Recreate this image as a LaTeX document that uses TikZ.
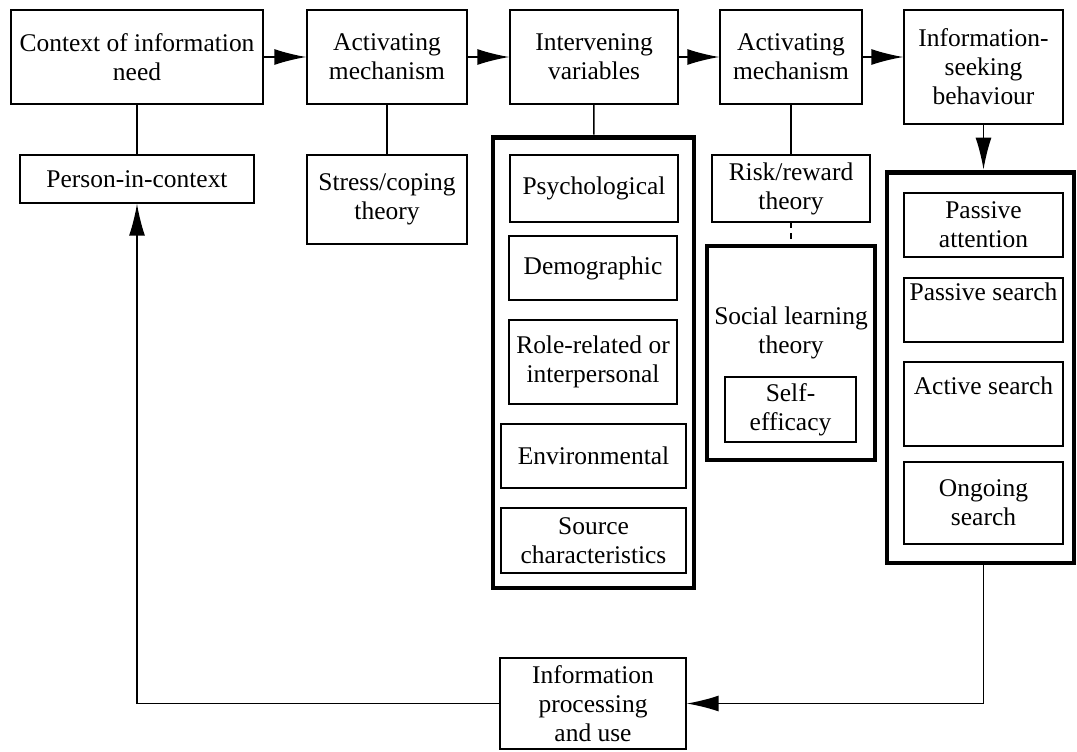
\documentclass[tikz,border=0pt]{standalone}
\usepackage{fontspec}
\setmainfont{Liberation Serif}
\usepackage{tikz}
\usetikzlibrary{positioning}
\usetikzlibrary{arrows.meta}

\begin{document}
\begin{tikzpicture}[x=0.02cm, y=-0.02cm,
  box/.style={draw, line width=0.8pt, align=center, inner sep=0pt,
    font=\fontsize{14.5}{16.5}\selectfont},
  words/.style={align=center, inner sep=0pt, font=\fontsize{14.5}{16.5}\selectfont},
  frame/.style={draw, line width=2.8pt, inner sep=0pt},
  link/.style={line width=0.8pt},
  flow/.style={line width=0.8pt, -{Latex[length=0.64cm, width=0.32cm]}}
  ]

\useasboundingbox (0,0) rectangle (1077,751);

% top row
{
\node[box, minimum width=5.04cm, minimum height=1.88cm] (context) at (137,57)
{Context of information\\need};
\node[box, minimum width=3.2cm, minimum height=1.88cm] (act1) at (387,57)
{Activating\\mechanism};
\node[box, minimum width=3.36cm, minimum height=1.88cm] (inter) at (594,57)
{Intervening\\variables};
\node[box, minimum width=2.84cm, minimum height=1.88cm] (act2) at (791,57)
{Activating\\mechanism};
\node[box, minimum width=3.18cm, minimum height=2.28cm] (seek) at (983.5,67)
{Information-\\seeking\\behaviour};
}

% theories
{
\node[box, minimum width=4.68cm, minimum height=0.96cm] (person) at (137,179)
{Person-in-context};
\node[box, minimum width=3.2cm, minimum height=1.78cm] (stress) at (387,199.5)
{Stress/coping\\theory};
\node[box, minimum width=3.16cm, minimum height=1.34cm] (risk) at (791,188.5)
{Risk/reward\\theory};
}

% intervening variables
{
\node[frame, minimum width=4.02cm, minimum height=9.02cm] (vars) at (593.5,362.5) {};

\node[box, minimum width=3.36cm, minimum height=1.34cm] (psych) at (594,188.5)
{Psychological};
\node[box, minimum width=3.36cm, minimum height=1.28cm] (demo) at (593,268)
{Demographic};
\node[box, minimum width=3.36cm, minimum height=1.68cm] (role) at (593,362)
{Role-related or\\interpersonal};
\node[box, minimum width=3.7cm, minimum height=1.28cm] (env) at (593.5,456)
{Environmental};
\node[box, minimum width=3.7cm, minimum height=1.3cm] (source) at (593.5,540.5)
{Source\\characteristics};
}

% social learning
{
\node[frame, minimum width=3.36cm, minimum height=4.28cm] (slt) at (791,353) {};
\node[words] (slttext) at (791,333) {Social learning\\theory};
\node[box, minimum width=2.62cm, minimum height=1.3cm] (self) at (790.5,409.5)
{Self-\\efficacy};
}

% behaviour
{
\node[frame, minimum width=3.74cm, minimum height=7.82cm] (results) at (980.5,367.5) {};

\node[box, minimum width=3.18cm, minimum height=1.28cm] (passatt) at (983.5,225)
{Passive\\attention};
\node[box, minimum width=3.18cm, minimum height=1.28cm] (passsearch) at (983.5,310)
{Passive search\\\strut};
\node[box, minimum width=3.18cm, minimum height=1.68cm] (actsearch) at (983.5,404)
{Active search\\\strut};
\node[box, minimum width=3.18cm, minimum height=1.64cm] (ongoing) at (983.5,503)
{Ongoing\\search};
}

\node[box, minimum width=3.72cm, minimum height=1.82cm] (info) at (593,703.5)
{Information\\processing\\and use};

% connectors
{
\draw[flow] (context) -- (act1);
\draw[flow] (act1) -- (inter);
\draw[flow] (inter) -- (act2);
\draw[flow] (act2.east) -- (act2.east -| seek.west);

\draw[link] (context) -- (person);
\draw[link] (act1) -- (stress);
\draw[link] (inter) -- (vars);
\draw[link] (act2) -- (risk);
\draw[link, dashed] (risk) -- (slt);

\draw[flow] (seek.south) -- (seek.south |- results.north);
\draw[flow] (seek.south |- results.south) |- (info.east);
\draw[flow] (info.west) -| (person.south);
}

\end{tikzpicture}
\end{document}
